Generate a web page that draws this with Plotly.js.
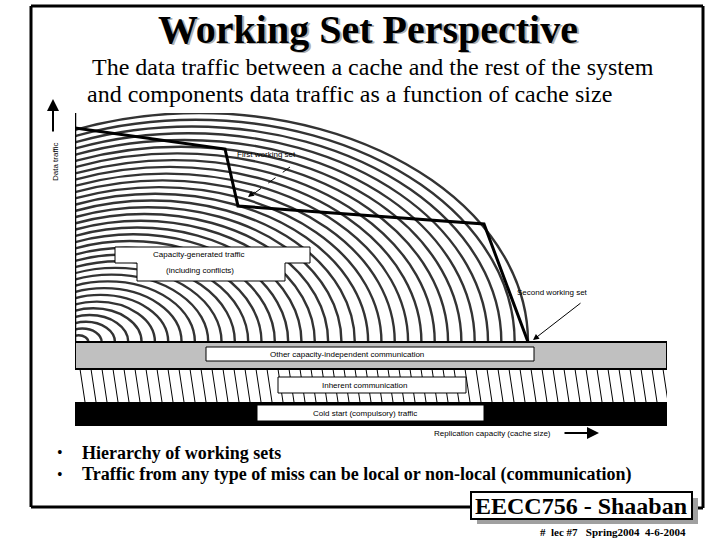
<!DOCTYPE html>
<html><head><meta charset="utf-8">
<script src="https://cdn.plot.ly/plotly-3.0.1.min.js"></script>
<style>html,body{margin:0;padding:0;background:#fff;} #chart{width:720px;height:540px;}</style>
</head><body><div id="chart"></div>
<script>
// ---- data (axis units: replication capacity / data traffic) ----
const cacheSize   = [0, 150, 163, 409, 453];
const dataTraffic = [298, 277, 220, 202, 84];
const componentNames   = ['Cold start (compulsory) traffic', 'Inherent communication', 'Other capacity-independent communication'];
const componentTraffic = [24, 33, 27];
const maxCache = 592, maxTraffic = 313;
const bulletLines = ['Hierarchy of working sets', 'Traffic from any type of miss can be local or non-local (communication)'];

// ---- geometry helpers (plot area in page pixels) ----
const L = 75, R = 667, T = 113, B = 426;
const px = x => (x - L) / (R - L);
const py = y => (B - y) / (B - T);
const dx = x => x - L;      // page px -> x data
const dy = y => B - y;      // page px -> y data

const serif = 'Liberation Serif, Times New Roman, serif';
const sans = 'Liberation Sans, Arial, sans-serif';

// stacked component bands
const traces = [];
const bandFill = ['#000000', '#ffffff', '#c0c0c0'];
let base = 0;
const bandBase = [];
componentTraffic.forEach((v, i) => {
  bandBase.push(base);
  traces.push({
    type: 'scatter', mode: 'lines', hoverinfo: 'skip', name: componentNames[i],
    x: [0, maxCache, maxCache, 0, 0],
    y: [base, base, base + v, base + v, base],
    fill: 'toself', fillcolor: bandFill[i],
    line: {color: i === 2 ? '#000' : bandFill[i], width: i === 2 ? 2 : 0}
  });
  base += v;
});
const bandTop = base;
traces.push({
  type: 'scatter', mode: 'lines', hoverinfo: 'skip', name: 'Data traffic',
  x: cacheSize, y: dataTraffic, line: {color: '#000', width: 3}
});

const shapes = [];
// capacity-generated hatch: family of elliptic arcs
const N = 34;
for (let k = 1; k <= N; k++) {
  const s = k / N, cx = 124 * s, a = 329 * s, b = 229 * s;
  shapes.push({type: 'circle', xref: 'x', yref: 'y', layer: 'below',
    x0: cx - a, x1: cx + a, y0: bandTop - b, y1: bandTop + b,
    line: {color: '#333333', width: 2.4}});
}
// inherent communication hatch
let hp = '';
const hTop = bandBase[2], hBot = bandBase[1];
for (let x = -6; x <= maxCache; x += 11) hp += `M${x},${hTop} L${x + 5},${hBot} `;
shapes.push({type: 'path', xref: 'x', yref: 'y', path: hp, line: {color: '#000', width: 1}});
// left axis
shapes.push({type: 'line', xref: 'x', yref: 'y', x0: 0, x1: 0, y0: bandTop, y1: maxTraffic, line: {color: '#000', width: 2.5}});

// label boxes
function boxPx(x0, y0, x1, y1) {
  return {type: 'rect', xref: 'x', yref: 'y', x0: dx(x0), x1: dx(x1), y0: dy(y1), y1: dy(y0),
    fillcolor: '#fff', line: {color: '#000', width: 1}};
}
shapes.push(boxPx(206, 347, 534, 361));
shapes.push(boxPx(278, 377, 466, 393));
shapes.push(boxPx(257, 405, 484, 421));
const capPts = [[115,247],[310,247],[310,263],[285,263],[285,281],[137,281],[137,263],[115,263]];
shapes.push({type: 'path', xref: 'x', yref: 'y', fillcolor: '#fff', line: {color: '#000', width: 1},
  path: 'M' + capPts.map(p => dx(p[0]) + ',' + dy(p[1])).join(' L') + ' Z'});
// first working set dashed pointer
shapes.push({type: 'line', xref: 'paper', yref: 'paper', x0: px(290), y0: py(167), x1: px(252), y1: py(195),
  line: {color: '#000', width: 1, dash: 'dash'}});

// slide frame
const frame = (x0, y0, x1, y1, w) => ({type: 'line', xref: 'paper', yref: 'paper',
  x0: px(x0), y0: py(y0), x1: px(x1), y1: py(y1), line: {color: '#000', width: w}});
shapes.push(frame(31, 6, 703, 6, 3));
shapes.push(frame(31, 6, 31, 507, 3));
shapes.push(frame(703, 6, 703, 508, 3));
shapes.push(frame(31, 507, 472, 507, 3));
shapes.push(frame(692, 508, 703, 508, 3));
// footer box with shadow
shapes.push({type: 'rect', xref: 'paper', yref: 'paper', x0: px(477), x1: px(698), y0: py(524), y1: py(498),
  fillcolor: '#a0a0a0', line: {width: 0}});
shapes.push({type: 'rect', xref: 'paper', yref: 'paper', x0: px(471), x1: px(692), y0: py(519), y1: py(492),
  fillcolor: '#fff', line: {color: '#000', width: 2}});

const ann = [];
function txt(text, x, y, size, family, opts) {
  ann.push(Object.assign({xref: 'paper', yref: 'paper', x: px(x), y: py(y), text: text, showarrow: false,
    xanchor: 'center', yanchor: 'middle',
    font: {family: family, size: size, color: '#000'}}, opts || {}));
}
txt('<b>Working Set Perspective</b>', 370, 31, 40, serif, {font: {family: serif, size: 40, color: '#b0b0b0'}});
txt('<b>Working Set Perspective</b>', 368, 29, 40, serif);
txt('The data traffic between a cache and the rest of the system', 90, 67, 24, serif, {xanchor: 'left'});
txt('and components data traffic as a function of cache size', 85, 94, 24, serif, {xanchor: 'left'});
txt('Data traffic', 55, 162, 8, sans, {textangle: -90});
txt('First working set', 235, 154, 8, sans, {xanchor: 'left'});
txt('Capacity-generated traffic', 198, 254, 8, sans);
txt('(including conflicts)', 200, 270, 8, sans);
txt('Second working set', 552, 292, 8, sans);
txt(componentNames[2], 347, 354, 8, sans);
txt(componentNames[1], 364, 385, 8, sans);
txt(componentNames[0], 365, 413, 8, sans);
txt('Replication capacity (cache size)', 553, 433, 8, sans, {xanchor: 'right'});
bulletLines.forEach((t, i) => {
  const y = 453 + i * 21;
  txt('•', 60, y, 16, serif);
  txt('<b>' + t + '</b>', 80, y, 18, serif, {xanchor: 'left'});
});
txt('<b>EECC756 - Shaaban</b>', 581, 506, 24, serif);
txt('<b>#\u00a0\u00a0lec\u00a0#7\u00a0\u00a0\u00a0Spring2004\u00a0\u00a04-6-2004</b>', 538, 532, 11, serif, {xanchor: 'left'});

// arrows
function arrow(x, y, axp, ayp, w) {
  ann.push({xref: 'paper', yref: 'paper', x: px(x), y: py(y), ax: axp, ay: ayp, text: '',
    showarrow: true, arrowhead: 2, arrowsize: 1.2, arrowwidth: w, arrowcolor: '#000'});
}
arrow(53, 99, 0, 34, 2);
arrow(599, 433, -36, 0, 2);
arrow(533, 340, 49, -38, 1);
arrow(248, 197, 8, -6, 1);

const layout = {
  width: 720, height: 540, autosize: false,
  margin: {l: L, r: 720 - R, t: T, b: 540 - B, pad: 0},
  paper_bgcolor: '#fff', plot_bgcolor: '#fff', showlegend: false,
  xaxis: {range: [0, maxCache], visible: false, fixedrange: true},
  yaxis: {range: [0, maxTraffic], visible: false, fixedrange: true},
  shapes: shapes, annotations: ann
};
Plotly.newPlot('chart', traces, layout, {staticPlot: true, displayModeBar: false});
</script></body></html>
